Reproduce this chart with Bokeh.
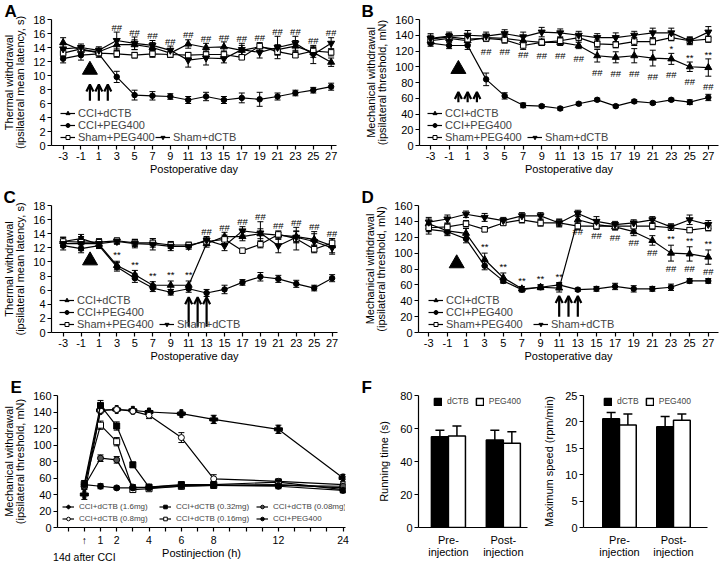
import numpy as np
from bokeh.plotting import figure
from bokeh.models import (ColumnDataSource, Whisker, TeeHead, Legend, LegendItem,
                          Arrow, OpenHead, FixedTicker, Range1d, Title)
from bokeh.layouts import row, column
from bokeh.embed import file_html
from bokeh.resources import INLINE
from bokeh.core.properties import value

FONT = "Liberation Sans"

# ---------------- data ----------------
DAYS = [-3, -1, 1, 3, 5, 7, 9, 11, 13, 15, 17, 19, 21, 23, 25, 27]
SERIES = ["CCI+dCTB", "CCI+PEG400", "Sham+PEG400", "Sham+dCTB"]

# Panel A: thermal withdrawal latency (s)
A_cci_dctb = [14.7, 13.6, 13.4, 14.4, 14.4, 14.0, 13.2, 14.5, 14.0, 14.1, 13.6, 14.1, 13.7, 14.2, 13.3, 11.9]
A_cci_dctb_err = [0.7, 0.5, 0.5, 0.8, 0.7, 0.7, 0.6, 0.6, 0.6, 0.7, 0.7, 0.6, 0.7, 0.8, 0.7, 0.6]
A_cci_peg = [12.4, 12.9, 13.1, 9.8, 7.2, 7.1, 7.0, 6.5, 7.0, 6.5, 6.8, 6.6, 7.0, 7.5, 7.9, 8.4]
A_cci_peg_err = [0.6, 0.7, 0.5, 0.8, 0.7, 0.6, 0.4, 0.5, 0.6, 0.5, 0.7, 1.0, 0.5, 0.4, 0.4, 0.5]
A_sham_peg = [13.2, 13.8, 13.2, 13.1, 12.9, 13.1, 13.0, 12.9, 13.0, 13.0, 12.6, 14.2, 13.4, 12.9, 13.5, 13.3]
A_sham_peg_err = [0.5, 0.4, 0.4, 0.5, 0.4, 0.5, 0.4, 0.4, 0.4, 0.5, 0.3, 0.3, 0.5, 0.3, 0.6, 0.5]
A_sham_dctb = [13.8, 14.0, 13.6, 15.0, 14.6, 14.3, 13.6, 12.2, 12.5, 12.4, 13.7, 13.3, 14.0, 14.6, 13.0, 14.6]
A_sham_dctb_err = [0.6, 0.5, 0.5, 1.2, 0.9, 0.7, 0.6, 1.0, 1.0, 0.6, 0.9, 0.8, 1.6, 1.0, 1.3, 0.8]
A_hash_days = [3, 5, 7, 9, 11, 13, 15, 17, 19, 21, 23, 25, 27]
A_treat_days = [0, 1, 2]
A_first_dose_day = [0]

# Panel B: mechanical withdrawal threshold (mN)
B_cci_dctb = [133, 136, 133, 137, 136, 133, 131, 131, 127, 114, 112, 114, 111, 110, 100, 99]
B_cci_dctb_err = [5, 4, 5, 4, 4, 5, 4, 4, 4, 8, 7, 9, 10, 7, 6, 11]
B_cci_peg = [130, 127, 127, 84, 63, 51, 50, 47, 53, 58, 50, 56, 54, 58, 55, 61]
B_cci_peg_err = [4, 4, 5, 8, 4, 3, 2, 2, 2, 2, 2, 2, 2, 2, 3, 4]
B_sham_peg = [135, 138, 135, 136, 134, 127, 131, 133, 137, 129, 128, 132, 132, 137, 133, 135]
B_sham_peg_err = [5, 4, 4, 4, 4, 5, 4, 4, 4, 5, 4, 5, 4, 4, 4, 4]
B_sham_dctb = [136, 139, 140, 139, 142, 138, 144, 143, 140, 137, 137, 140, 143, 143, 133, 144]
B_sham_dctb_err = [6, 5, 6, 5, 5, 6, 6, 5, 5, 5, 6, 5, 6, 6, 5, 7]
B_hash_days = [3, 5, 7, 9, 11, 13, 15, 17, 19, 21, 23, 25, 27]
B_star1_days = [23]
B_star2_days = [25, 27]
B_treat_days = [0, 1, 2]
B_first_dose_day = [0]

# Panel C: thermal, late treatment
C_cci_dctb = [12.9, 13.3, 12.5, 9.5, 8.2, 6.7, 6.7, 6.7, 12.6, 13.6, 13.6, 14.0, 13.8, 13.6, 13.2, 12.3]
C_cci_dctb_err = [0.6, 0.6, 0.5, 0.6, 0.6, 0.5, 0.6, 0.6, 0.5, 0.6, 0.6, 0.7, 0.6, 0.8, 0.8, 1.0]
C_cci_peg = [12.3, 11.9, 12.3, 9.3, 7.7, 6.3, 5.7, 6.2, 5.6, 6.1, 7.1, 7.9, 7.6, 6.9, 6.3, 7.7]
C_cci_peg_err = [0.6, 0.6, 0.4, 0.6, 0.6, 0.5, 0.4, 0.5, 0.5, 0.6, 0.4, 0.6, 0.5, 0.5, 0.4, 0.5]
C_sham_peg = [12.9, 12.8, 12.8, 13.0, 12.7, 12.7, 12.4, 12.4, 12.9, 13.2, 11.6, 12.5, 13.9, 13.3, 11.8, 12.7]
C_sham_peg_err = [0.6, 0.7, 0.5, 0.4, 0.5, 0.6, 0.5, 0.4, 0.5, 0.6, 0.2, 0.5, 0.3, 1.6, 0.5, 0.6]
C_sham_dctb = [12.6, 12.6, 12.6, 12.9, 12.6, 12.5, 12.2, 12.2, 13.1, 12.3, 14.4, 14.1, 12.3, 13.5, 12.9, 12.0]
C_sham_dctb_err = [0.5, 1.0, 0.6, 0.4, 0.6, 0.8, 0.6, 0.4, 0.5, 0.7, 0.6, 1.6, 1.0, 0.8, 1.4, 0.9]
C_star_days = [3, 5, 7, 9, 11]
C_hash_days = [13, 15, 17, 19, 21, 23, 25, 27]
C_treat_days = [11, 12, 13]
C_first_dose_day = [0]

# Panel D: mechanical, late treatment
D_cci_dctb = [137, 128, 125, 92, 69, 55, 57, 56, 142, 136, 133, 127, 116, 100, 99, 95]
D_cci_dctb_err = [6, 5, 6, 8, 6, 3, 3, 5, 6, 5, 4, 5, 6, 10, 9, 9]
D_cci_peg = [130, 127, 118, 84, 65, 54, 57, 60, 54, 55, 58, 55, 55, 57, 65, 65]
D_cci_peg_err = [6, 5, 5, 5, 3, 3, 3, 3, 2, 3, 4, 4, 3, 4, 3, 3]
D_sham_peg = [132, 133, 137, 130, 138, 142, 138, 138, 134, 134, 134, 134, 134, 132, 129, 132]
D_sham_peg_err = [5, 4, 4, 3, 3, 4, 4, 4, 4, 4, 4, 5, 4, 3, 3, 4]
D_sham_dctb = [139, 143, 149, 145, 141, 147, 147, 138, 150, 140, 136, 138, 142, 133, 142, 136]
D_sham_dctb_err = [6, 5, 4, 5, 4, 4, 4, 5, 4, 6, 4, 4, 4, 4, 6, 5]
D_star_days = [3, 5, 7, 9, 11]
D_hash_days = [13, 15, 17, 19, 21, 23, 25, 27]
D_star2_days = [23, 25, 27]
D_treat_days = [11, 12, 13]
D_first_dose_day = [0]

# Panel E: dose response, hours after injection
E_hours = [0, 1, 2, 3, 4, 6, 8, 12, 24]
E_tick_hours = [1, 2, 4, 6, 8, 12, 24]
E_names = ["CCI+dCTB (1.6mg)", "CCI+dCTB (0.8mg)", "CCI+dCTB (0.32mg)",
           "CCI+dCTB (0.16mg)", "CCI+dCTB (0.08mg)", "CCI+PEG400"]
E_d16 = [40, 142, 143, 142, 140, 138, 131, 119, 60]
E_d16_err = [6, 3, 2, 2, 2, 2, 5, 5, 4]
E_d08 = [50, 142, 143, 141, 136, 109, 59, 56, 52]
E_d08_err = [3, 3, 2, 2, 4, 6, 5, 3, 3]
E_d032 = [53, 148, 123, 76, 49, 52, 52, 55, 46]
E_d032_err = [4, 6, 5, 3, 3, 3, 3, 3, 3]
E_d016 = [52, 124, 104, 46, 47, 50, 51, 52, 48]
E_d016_err = [3, 5, 5, 3, 2, 3, 3, 3, 3]
E_d008 = [50, 84, 82, 49, 48, 50, 51, 51, 50]
E_d008_err = [3, 4, 4, 3, 2, 3, 3, 3, 3]
E_peg = [52, 50, 48, 48, 49, 51, 51, 50, 45]
E_peg_err = [3, 3, 2, 2, 2, 3, 3, 3, 3]
E_injection_note = "14d after CCI"

# Panel F: rotarod
F_groups = ["Pre-\ninjection", "Post-\ninjection"]
F_time_dctb = [55, 53]
F_time_dctb_err = [4, 6]
F_time_peg = [55.5, 51]
F_time_peg_err = [6, 7]
F_speed_dctb = [20.6, 19.1]
F_speed_dctb_err = [1.2, 1.9]
F_speed_peg = [19.4, 20.3]
F_speed_peg_err = [2.1, 1.2]

# ---------------- helpers ----------------
MARKERS = {
    "CCI+dCTB": ("triangle", "black", 7),
    "CCI+PEG400": ("circle", "black", 5.5),
    "Sham+PEG400": ("square", "white", 5.5),
    "Sham+dCTB": ("inverted_triangle", "black", 7),
}


def style_axes(p, tick_size="11px", label_size="11px"):
    p.outline_line_color = None
    p.xgrid.visible = False
    p.ygrid.visible = False
    p.background_fill_color = "white"
    p.border_fill_color = "white"
    for ax in p.axis:
        ax.axis_line_width = 1.2
        ax.axis_line_color = "black"
        ax.major_tick_line_width = 1.2
        ax.major_tick_line_color = "black"
        ax.major_tick_out = 4
        ax.major_tick_in = 0
        ax.minor_tick_line_color = None
        ax.major_label_text_font = FONT
        ax.major_label_text_font_size = tick_size
        ax.major_label_text_color = "black"
        ax.major_label_standoff = 2
        ax.axis_label_text_font = FONT
        ax.axis_label_text_font_style = "normal"
        ax.axis_label_text_font_size = label_size
        ax.axis_label_text_color = "black"
        ax.axis_label_text_line_height = 0.9


def base_fig(width, height, xr, yr, mbl, mbr, mbt, mbb, letter=None):
    p = figure(width=width, height=height, x_range=Range1d(*xr), y_range=Range1d(*yr),
               output_backend="svg", toolbar_location=None, title=None,
               min_border_left=mbl, min_border_right=mbr,
               min_border_top=mbt, min_border_bottom=mbb)
    style_axes(p)
    if letter is not None:
        p.add_layout(Title(text=letter, align="left", offset=-mbl + 1, standoff=-2,
                           text_font=FONT, text_font_size="17px",
                           text_font_style="bold", text_color="black"), "above")
    return p


def add_series(p, x, y, err, marker, fill, size, head=6):
    y = np.asarray(y, float)
    err = np.asarray(err, float)
    src = ColumnDataSource(dict(x=list(x), y=y, lo=y - err, hi=y + err))
    w = Whisker(source=src, base="x", upper="hi", lower="lo", line_width=1,
                line_color="black",
                upper_head=TeeHead(size=head, line_width=1, line_color="black"),
                lower_head=TeeHead(size=head, line_width=1, line_color="black"))
    p.add_layout(w)
    l = p.line("x", "y", source=src, line_color="black", line_width=1.2)
    s = p.scatter("x", "y", source=src, marker=marker, size=size,
                  fill_color=fill, line_color="black", line_width=1)
    return [l, s]


def mk_legend(items, loc, spacing, orientation="vertical", size="11px",
              gw=15, gh=10, standoff=3, label_width=20):
    return Legend(items=items, location=loc, orientation=orientation,
                  label_text_font=FONT, label_text_font_size=size,
                  glyph_width=gw, glyph_height=gh, label_height=gh,
                  label_width=label_width,
                  spacing=spacing, padding=0, margin=0, label_standoff=standoff,
                  background_fill_alpha=0, border_line_color=None)


def time_panel(name, data, yr, yticks, ylabel, xr, mbl, mbr, mbt, height,
               frame_bottom, leg_xy, leg2_x, leg_spacing, treat_days, arrow_y,
               first_day, tri_y, annots):
    mbb = height - frame_bottom
    p = base_fig(360, height, xr, yr, mbl, mbr, mbt, mbb, letter=name)
    p.xaxis.ticker = FixedTicker(ticks=DAYS)
    p.xaxis.major_label_overrides = {d: str(d) for d in DAYS}
    p.yaxis.ticker = FixedTicker(ticks=yticks)
    p.xaxis.axis_label = "Postoperative day"
    p.xaxis.axis_label_standoff = 0
    p.yaxis.axis_label = ylabel
    p.yaxis.axis_label_standoff = 4
    rends = []
    for sname, (vals, errs) in zip(SERIES, data):
        m, f, s = MARKERS[sname]
        rends.append(add_series(p, DAYS, vals, errs, m, f, s))
    # significance marks, placed just beyond the error bars
    for lab, days, mode, idxs, pad in annots:
        xs, ys = [], []
        for d in days:
            i = DAYS.index(d)
            if mode == "above":
                yy = max(data[k][0][i] + data[k][1][i] for k in idxs) + pad
            else:
                yy = min(data[k][0][i] - data[k][1][i] for k in idxs) - pad
            xs.append(d)
            ys.append(yy)
        p.text(x=xs, y=ys, text=[lab] * len(xs), text_font=value(FONT),
               text_font_size="9.5px", text_align="center", text_baseline="middle",
               text_color="black")
    # treatment markers
    p.scatter(x=first_day, y=[tri_y] * len(first_day), marker="triangle", size=15,
              fill_color="black", line_color="black")
    asrc = ColumnDataSource(dict(x=treat_days, y0=[arrow_y[0]] * len(treat_days),
                                 y1=[arrow_y[1]] * len(treat_days)))
    p.add_layout(Arrow(source=asrc, x_start="x", y_start="y0", x_end="x", y_end="y1",
                       line_width=2.2, line_color="black",
                       end=OpenHead(size=7, line_width=2.2, line_color="black")))
    leg1 = mk_legend([LegendItem(label=SERIES[i], renderers=rends[i]) for i in range(3)],
                     leg_xy, leg_spacing)
    leg2 = mk_legend([LegendItem(label=SERIES[3], renderers=rends[3])],
                     (leg2_x, leg_xy[1]), 0)
    p.add_layout(leg1)
    p.add_layout(leg2)
    return p


def series(*args):
    return [(args[i], args[i + 1]) for i in range(0, len(args), 2)]


H1, H2, H3 = 186, 190, 186

pA = time_panel("A", series(A_cci_dctb, A_cci_dctb_err, A_cci_peg, A_cci_peg_err,
                            A_sham_peg, A_sham_peg_err, A_sham_dctb, A_sham_dctb_err),
                (0, 18), list(range(0, 19, 2)),
                "Thermal withdrawal\n(ipsilateral mean latency, s)",
                (-4.3, 27.6), 48, 24, 18, H1, 145, (9, 2), 104, -4,
                A_treat_days, (6.4, 8.7), A_first_dose_day, 10.8,
                [("##", A_hash_days, "above", [0, 1, 2, 3], 0.7)])

pB = time_panel("B", series(B_cci_dctb, B_cci_dctb_err, B_cci_peg, B_cci_peg_err,
                            B_sham_peg, B_sham_peg_err, B_sham_dctb, B_sham_dctb_err),
                (0, 160), list(range(0, 161, 20)),
                "Mechanical withdrawal\n(ipsilateral threshold, mN)",
                (-4.2, 28.1), 59, 2, 18, H1, 145, (8, 2), 108, -3,
                B_treat_days, (55, 68), B_first_dose_day, 97,
                [("##", B_hash_days, "below", [0], 13),
                 ("*", B_star1_days, "above", [0], 6),
                 ("**", B_star2_days, "above", [0], 6)])

pC = time_panel("C", series(C_cci_dctb, C_cci_dctb_err, C_cci_peg, C_cci_peg_err,
                            C_sham_peg, C_sham_peg_err, C_sham_dctb, C_sham_dctb_err),
                (0, 18), list(range(0, 19, 2)),
                "Thermal withdrawal\n(ipsilateral mean latency, s)",
                (-4.3, 27.6), 49, 23, 19, H2, 147, (8, 2), 108, -4,
                C_treat_days, (0.8, 5.0), C_first_dose_day, 10.2,
                [("**", C_star_days, "above", [0, 1], 0.9),
                 ("##", C_hash_days, "above", [0, 1, 2, 3], 0.7)])

pD = time_panel("D", series(D_cci_dctb, D_cci_dctb_err, D_cci_peg, D_cci_peg_err,
                            D_sham_peg, D_sham_peg_err, D_sham_dctb, D_sham_dctb_err),
                (0, 160), list(range(0, 161, 20)),
                "Mechanical withdrawal\n(ipsilateral threshold, mN)",
                (-4.1, 28.1), 58, 2, 19, H2, 146, (10, 2), 115, 0,
                D_treat_days, (20, 46), D_first_dose_day, 87,
                [("**", D_star_days, "above", [0, 1], 8),
                 ("##", D_hash_days, "below", [0], 9),
                 ("**", D_star2_days, "above", [0], 8)])

# ---------------- panel E ----------------
def hpos(h):
    # broken time axis: 1 h per tick up to 12 h, 3 h per tick after
    h = np.asarray(h, float)
    return np.where(h <= 12, h, 12 + (h - 12) / 3.0)


mbtE, mblE, mbrE = 19, 48, 15
mbbE = H3 - 151
pE = base_fig(360, H3, (-1.66, 16.15), (0, 160), mblE, mbrE, mbtE, mbbE, letter="E")
e_ticks = list(range(-1, 17))
overrides = {t: "" for t in e_ticks}
for hp, hv in zip(hpos(E_tick_hours), E_tick_hours):
    overrides[int(round(float(hp)))] = str(hv)
overrides[0] = "\u2191\n" + E_injection_note
pE.xaxis.ticker = FixedTicker(ticks=e_ticks)
pE.xaxis.major_label_overrides = overrides
pE.xaxis.major_label_text_font_size = "10.5px"
pE.xaxis.major_label_text_line_height = 1.45
pE.yaxis.ticker = FixedTicker(ticks=list(range(0, 161, 20)))
pE.xaxis.axis_label = "Postinjection (h)"
pE.xaxis.axis_label_standoff = -19
pE.yaxis.axis_label = "Mechanical withdrawal\n(ipsilateral threshold, mN)"
pE.yaxis.axis_label_standoff = 4

E_style = [("plus", "black", 8), ("circle", "white", 6), ("square", "black", 6),
           ("square", "white", 6), ("circle", "#555555", 6), ("circle", "black", 6)]
E_data = [(E_d16, E_d16_err), (E_d08, E_d08_err), (E_d032, E_d032_err),
          (E_d016, E_d016_err), (E_d008, E_d008_err), (E_peg, E_peg_err)]
xE = hpos(E_hours)
E_r = []
for (vals, errs), (m, f, s) in zip(E_data, E_style):
    E_r.append(add_series(pE, xE, vals, errs, m, f, s, head=6))
for idxs, yloc in [([0, 2, 4], 16), ([1, 3, 5], 4)]:
    lg = mk_legend([LegendItem(label=E_names[i], renderers=E_r[i]) for i in idxs],
                   (5, yloc), 4, orientation="horizontal", size="8px",
                   gw=12, gh=9, standoff=5, label_width=76)
    pE.add_layout(lg)

# ---------------- panel F ----------------
def bar_panel(width, mbl, mbr, xr, yr, yticks, ylabel, d, de, g, ge, leg_x, letter):
    mbt = 19
    mbb = H3 - 151
    frame_h = H3 - mbt - mbb
    p = base_fig(width, H3, xr, yr, mbl, mbr, mbt, mbb, letter=letter)
    x = np.arange(len(F_groups), dtype=float)
    p.xaxis.ticker = FixedTicker(ticks=list(x))
    p.xaxis.major_label_overrides = {int(i): lab for i, lab in zip(x, F_groups)}
    p.xaxis.major_tick_line_color = None
    p.xaxis.major_label_text_line_height = 1.0
    p.xaxis.major_label_text_font_size = "11px"
    p.yaxis.ticker = FixedTicker(ticks=yticks)
    p.yaxis.axis_label = ylabel
    p.yaxis.axis_label_standoff = 7
    bw = 0.31
    rends = []
    for vals, errs, off, fill in [(d, de, -bw / 2, "black"), (g, ge, bw / 2, "white")]:
        vals = np.asarray(vals, float)
        errs = np.asarray(errs, float)
        src = ColumnDataSource(dict(x=x + off, top=vals, hi=vals + errs))
        p.add_layout(Whisker(source=src, base="x", upper="hi", lower="top",
                             line_width=1.5, line_color="black", lower_head=None,
                             upper_head=TeeHead(size=9, line_width=1.5, line_color="black")))
        rends.append(p.vbar(x="x", top="top", bottom=0, width=bw, source=src,
                            fill_color=fill, line_color="black", line_width=1.5))
    lg = mk_legend([LegendItem(label="dCTB", renderers=[rends[0]]),
                    LegendItem(label="PEG400", renderers=[rends[1]])],
                   (leg_x, frame_h - 11), 6, orientation="horizontal", size="8.5px",
                   gw=9, gh=9, standoff=5, label_width=10)
    p.add_layout(lg)
    return p


pF1 = bar_panel(180, 58, 13, (-0.545, 1.44), (0, 80), [0, 20, 40, 60, 80],
                "Running time (s)", F_time_dctb, F_time_dctb_err,
                F_time_peg, F_time_peg_err, 15, "F")
pF2 = bar_panel(180, 43, 13, (-0.667, 1.63), (0, 25), [0, 5, 10, 15, 20, 25],
                "Maximum speed (rpm/min)", F_speed_dctb, F_speed_dctb_err,
                F_speed_peg, F_speed_peg_err, 20, None)

layout = column(row(pA, pB), row(pC, pD), row(pE, row(pF1, pF2)))

with open("out.html", "w") as fh:
    fh.write(file_html(layout, INLINE, "Figure"))
